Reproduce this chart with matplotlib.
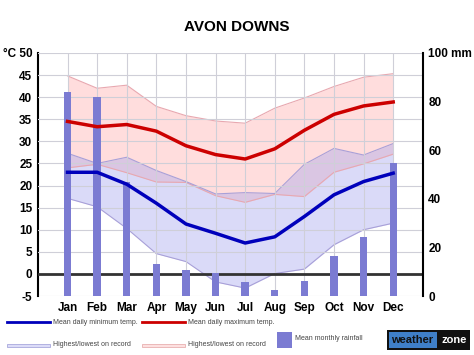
import numpy as np
import matplotlib.pyplot as plt
from matplotlib.patches import Rectangle

# datos
meses = ["Jan", "Feb", "Mar", "Apr", "May", "Jun", "Jul", "Aug", "Sep", "Oct", "Nov", "Dec"]
max_media = [34.5, 33.3, 33.8, 32.3, 29.0, 27.0, 26.0, 28.3, 32.5, 36.1, 38.0, 38.9]
min_media = [23.0, 23.0, 20.3, 16.0, 11.3, 9.2, 7.0, 8.4, 13.0, 17.9, 20.9, 22.8]
max_record_alto = [44.8, 42.0, 42.7, 37.9, 35.8, 34.6, 34.1, 37.5, 39.8, 42.4, 44.5, 45.3]
max_record_bajo = [24.0, 24.8, 22.9, 20.8, 20.7, 17.7, 16.2, 18.0, 17.5, 23.0, 24.9, 27.1]
min_record_alto = [27.3, 25.0, 26.4, 23.4, 20.9, 18.1, 18.4, 18.2, 24.8, 28.4, 26.9, 29.5]
min_record_bajo = [17.1, 15.2, 10.3, 4.6, 2.8, -1.8, -3.2, 0.1, 1.1, 6.6, 10.0, 11.5]
lluvia = [84, 82, 47, 13.2, 10.7, 9.6, 5.9, 2.7, 6.3, 16.5, 24.4, 54.6]

x = np.arange(1, 13)

plt.rcParams['font.family'] = ['Liberation Sans', 'DejaVu Sans']

fig = plt.figure(figsize=(4.74, 3.55), dpi=100)
rect = [0.080, 0.166, 0.812, 0.685]
ax = fig.add_axes(rect)
ax2 = ax.twinx()

# bandas de records
ax.fill_between(x, max_record_bajo, max_record_alto, color="#ffaaaa", alpha=0.4,
                lw=0, zorder=1)
ax.fill_between(x, min_record_bajo, min_record_alto, color="#a4a4ee", alpha=0.4,
                lw=0, zorder=1)
for serie in (max_record_alto, max_record_bajo):
    ax.plot(x, serie, color="#e8a8b0", lw=0.8, zorder=2)
for serie in (min_record_alto, min_record_bajo):
    ax.plot(x, serie, color="#a8a0d8", lw=0.8, zorder=2)

ax.grid(True, color="#cfcfd8", lw=0.8, zorder=0)
ax.set_axisbelow(False)
ax.axhline(0, color="#333333", lw=2, zorder=3)

ax.set_xlim(0, 13)
ax.set_ylim(-5, 50)
ax.set_xticks(x)
ax.set_xticklabels(meses, fontweight="bold", fontsize=8.5)
ax.set_yticks(np.arange(-5, 51, 5))
etiquetas_t = [str(v) for v in range(-5, 50, 5)] + ["°C 50"]
ax.set_yticklabels(etiquetas_t, fontweight="bold", fontsize=8.5)
ax.tick_params(length=0, pad=4)
for lado in ("top", "bottom", "right"):
    ax.spines[lado].set_visible(False)
ax.spines["left"].set_linewidth(1.5)

# lluvia en el eje derecho
ax2.bar(x, lluvia, width=0.25, color="#7b7bd2", zorder=4)
ax2.set_ylim(0, 100)
ax2.set_yticks([0, 20, 40, 60, 80, 100])
ax2.set_yticklabels(["0", "20", "40", "60", "80", "100 mm"], fontweight="bold", fontsize=8.5)
ax2.tick_params(length=0, pad=4)
for lado in ("top", "bottom", "left"):
    ax2.spines[lado].set_visible(False)
ax2.spines["right"].set_linewidth(1.5)

# lineas de medias encima de las barras
ax3 = fig.add_axes(rect)
ax3.patch.set_alpha(0)
ax3.set_xlim(0, 13)
ax3.set_ylim(-5, 50)
ax3.axis("off")
ax3.plot(x, max_media, color="#cc0000", lw=2.5)
ax3.plot(x, min_media, color="#0000bb", lw=2.5)

fig.text(0.5, 0.925, "AVON DOWNS", ha="center", va="center", fontsize=11, fontweight="bold")

# leyenda
fs = 5.0
gris = "#444444"
fig.add_artist(plt.Line2D([7/474, 50/474], [1-322/355]*2, color="#0000bb", lw=2))
fig.text(53/474, 1-322/355, "Mean daily minimum temp.", fontsize=fs, va="center", color=gris)
fig.add_artist(Rectangle((7/474, 1-347/355), 43/474, 3/355, facecolor="#dcdcf8",
                         edgecolor="#a8a8dd", lw=0.6))
fig.text(53/474, 1-345/355, "Highest/lowest on record", fontsize=fs, va="center", color=gris)
fig.add_artist(plt.Line2D([142/474, 185/474], [1-322/355]*2, color="#cc0000", lw=2))
fig.text(188/474, 1-322/355, "Mean daily maximum temp.", fontsize=fs, va="center", color=gris)
fig.add_artist(Rectangle((142/474, 1-347/355), 43/474, 3/355, facecolor="#fde0e0",
                         edgecolor="#e8b0b0", lw=0.6))
fig.text(188/474, 1-345/355, "Highest/lowest on record", fontsize=fs, va="center", color=gris)
fig.add_artist(Rectangle((277/474, 1-348/355), 15/474, 16/355, facecolor="#7b7bd2", lw=0))
fig.text(295/474, 1-339/355, "Mean monthly rainfall", fontsize=fs, va="center", color=gris)

# logo
fig.add_artist(Rectangle((387/474, 1-350/355), 83/474, 20/355, facecolor="#111111", lw=0))
fig.add_artist(Rectangle((389/474, 1-348/355), 48/474, 16/355, facecolor="#3f7fc8", lw=0))
fig.text(412/474, 1-340/355, "weather", fontsize=8, fontweight="bold", color="#111111",
         ha="center", va="center")
fig.text(454/474, 1-340/355, "zone", fontsize=8, fontweight="bold", color="white",
         ha="center", va="center")

plt.savefig("out.png", dpi=100)
